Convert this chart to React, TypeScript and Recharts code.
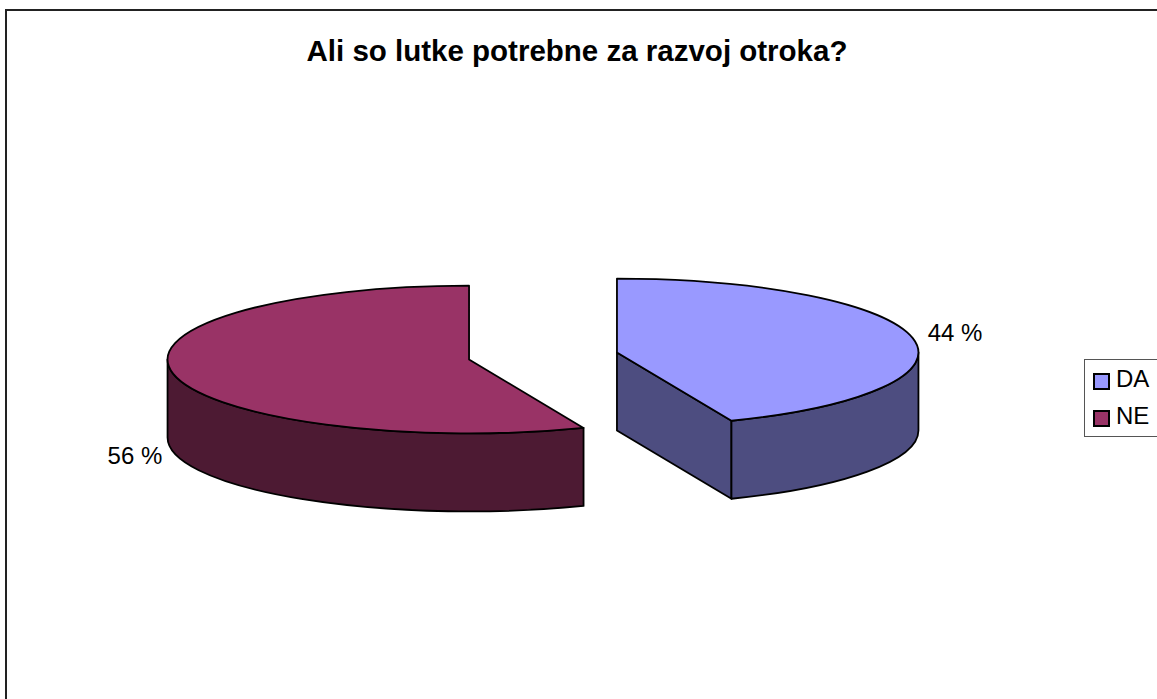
import { PieChart, Pie, Legend } from 'recharts';

const categories = ['DA', 'NE'];
const shares = [43.8, 56.2];
const topColors = ['#9999FF', '#993366'];
const sideColors = ['#4D4D80', '#4D1A33'];
const title = 'Ali so lutke potrebne za razvoj otroka?';

const pieData = categories.map((name, i) => ({
  name,
  value: shares[i],
  fill: topColors[i],
  side: sideColors[i],
}));

// fake 3D: flatten the pie vertically and extrude it downwards
const TILT = 0.245;
const DEPTH = 78;
const EXPLODE = 0.25;
const FONT = '"Liberation Sans", Arial, sans-serif';

const rad = (a: number) => (a * Math.PI) / 180;

function sliceCenter(cx: number, cy: number, r: number, mid: number) {
  return {
    x: cx + r * EXPLODE * Math.cos(rad(mid)),
    y: cy - r * TILT * EXPLODE * Math.sin(rad(mid)),
  };
}

function Slice3D(props: any) {
  const { cx, cy, outerRadius: r, startAngle, endAngle, midAngle, fill, side } = props;
  const c = sliceCenter(cx, cy, r, midAngle);
  const ry = r * TILT;
  const pt = (a: number, dy = 0) => ({
    x: c.x + r * Math.cos(rad(a)),
    y: c.y - ry * Math.sin(rad(a)) + dy,
  });

  const s = pt(startAngle);
  const e = pt(endAngle);
  const large = Math.abs(startAngle - endAngle) > 180 ? 1 : 0;
  const top = `M${c.x},${c.y} L${s.x},${s.y} A${r},${ry} 0 ${large} 1 ${e.x},${e.y} Z`;

  // only the front half of the rim can be seen
  const wallFrom = Math.min(startAngle, 0);
  const wallTo = Math.max(endAngle, -180);
  let wall = '';
  if (wallFrom > wallTo) {
    const a = pt(wallFrom);
    const b = pt(wallTo);
    const a2 = pt(wallFrom, DEPTH);
    const b2 = pt(wallTo, DEPTH);
    wall = `M${a.x},${a.y} A${r},${ry} 0 0 1 ${b.x},${b.y} L${b2.x},${b2.y} A${r},${ry} 0 0 0 ${a2.x},${a2.y} Z`;
  }

  let cut = '';
  if (Math.cos(rad(endAngle)) > 0.001) {
    cut = `M${c.x},${c.y} L${e.x},${e.y} L${e.x},${e.y + DEPTH} L${c.x},${c.y + DEPTH} Z`;
  }

  const line = { stroke: '#000', strokeWidth: 1.8, strokeLinejoin: 'round' as const };
  return (
    <g>
      {cut && <path d={cut} fill={side} {...line} />}
      {wall && <path d={wall} fill={side} {...line} />}
      <path d={top} fill={fill} {...line} />
    </g>
  );
}

function sliceLabel(props: any) {
  const { cx, cy, outerRadius: r, midAngle, value } = props;
  const c = sliceCenter(cx, cy, r, midAngle);
  const sin = Math.sin(rad(midAngle));
  const cos = Math.cos(rad(midAngle));
  const x = c.x + r * cos + (cos > 0 ? 15 : -11);
  const y = c.y - r * TILT * sin + (sin < 0 ? DEPTH + 12 : 3);
  return (
    <text x={x} y={y} textAnchor={cos > 0 ? 'start' : 'end'} fontFamily={FONT} fontSize={24} fill="#000">
      {`${Math.round(value)} %`}
    </text>
  );
}

function LegendBox({ payload }: any) {
  return (
    <div style={{ boxSizing: 'border-box', width: 74, height: 78, border: '1px solid #555', fontFamily: FONT, fontSize: 24, position: 'relative' }}>
      {(payload || []).map((item: any, i: number) => (
        <div key={item.value} style={{ position: 'absolute', left: 8, top: i * 37, height: 37, display: 'flex', alignItems: 'center', lineHeight: 1 }}>
          <span style={{ boxSizing: 'border-box', width: 17, height: 17, background: item.color, border: '2px solid #000', marginRight: 6, marginTop: 6 }} />
          <span>{item.value}</span>
        </div>
      ))}
    </div>
  );
}

export default function App() {
  return (
    <div style={{ position: 'absolute', left: 0, top: 0, width: 1157, height: 699, background: '#fff', overflow: 'hidden' }}>
      <div style={{ position: 'absolute', left: 5, top: 9, width: 1152, height: 690, borderLeft: '2px solid #222', borderTop: '2px solid #222' }} />
      <PieChart width={1157} height={699} margin={{ top: 0, right: 0, bottom: 0, left: 0 }}>
        <text x={577} y={61} textAnchor="middle" fontFamily={FONT} fontSize={29.5} fontWeight="bold" fill="#000">
          {title}
        </text>
        <Pie
          data={pieData}
          dataKey="value"
          nameKey="name"
          cx={543}
          cy={356}
          outerRadius={301.5}
          startAngle={90}
          endAngle={-270}
          stroke="#000"
          shape={Slice3D}
          label={sliceLabel}
          labelLine={false}
          isAnimationActive={false}
        />
        <Legend content={<LegendBox />} wrapperStyle={{ position: 'absolute', left: 1084, top: 359, width: 74, bottom: 'auto' }} />
      </PieChart>
    </div>
  );
}
